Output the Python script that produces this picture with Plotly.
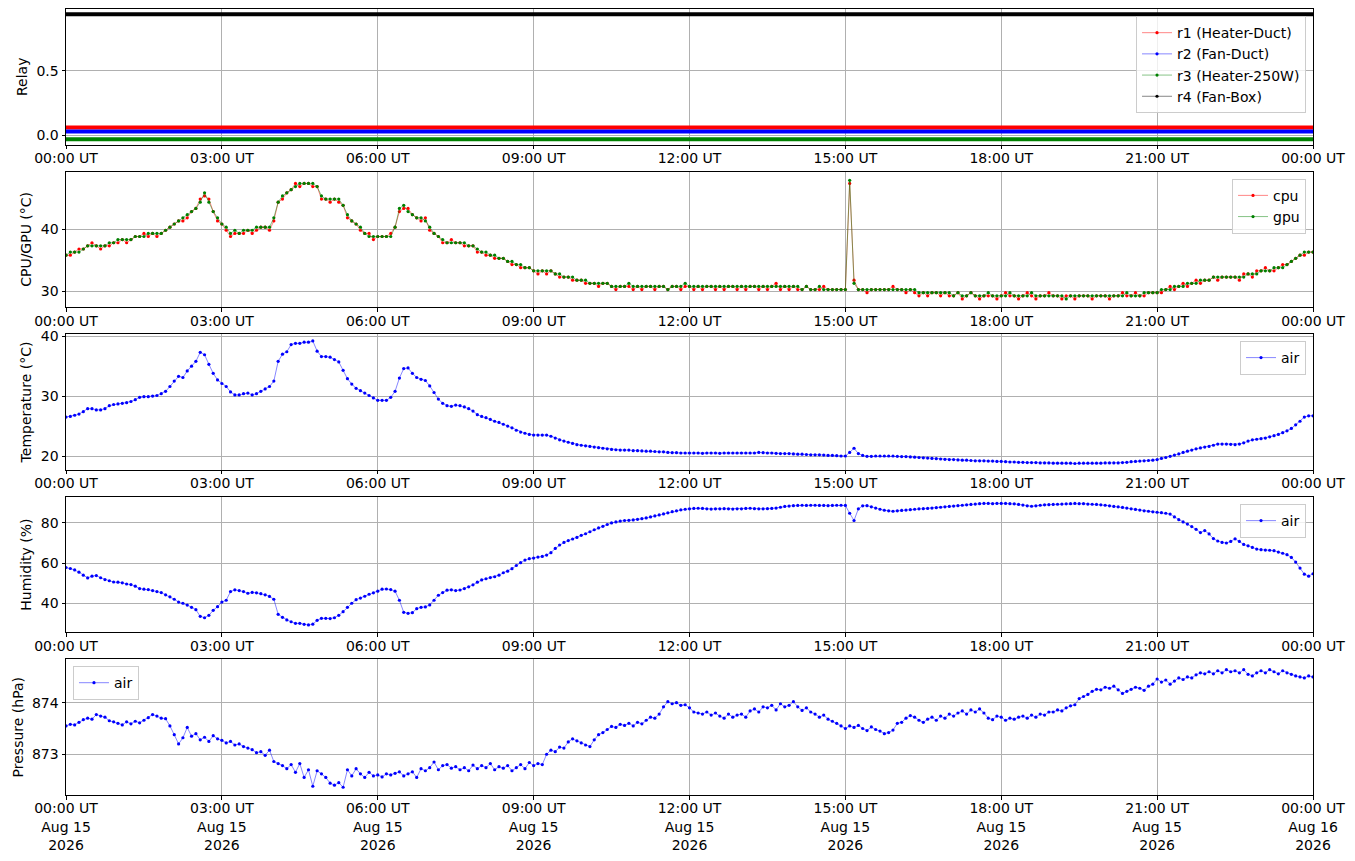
import pandas as pd
import plotly.graph_objs as go
from plotly.subplots import make_subplots

# === Datos (muestras cada 5 min, 15-Aug-2026 UT) ===
air_temp = [
    26.5, 26.6, 26.8, 27.0, 27.4, 27.9, 27.9, 27.7, 27.7, 27.9, 28.4, 28.6,
    28.7, 28.8, 28.9, 29.1, 29.4, 29.8, 29.9, 29.9, 30.0, 30.1, 30.4, 30.8,
    31.6, 32.5, 33.3, 33.1, 34.2, 35.0, 35.8, 37.3, 36.9, 35.3, 33.8, 32.7,
    32.1, 31.6, 30.7, 30.2, 30.2, 30.4, 30.5, 30.2, 30.4, 30.8, 31.2, 31.6,
    32.5, 35.8, 37.0, 37.4, 38.6, 38.8, 38.8, 39.0, 39.0, 39.2, 37.5, 36.6,
    36.6, 36.5, 36.1, 35.7, 34.3, 32.9, 32.0, 31.3, 30.9, 30.5, 30.1, 29.7,
    29.3, 29.3, 29.3, 29.8, 30.8, 33.0, 34.6, 34.7, 33.8, 33.1, 32.8, 32.6,
    31.7, 30.6, 29.5, 28.8, 28.4, 28.3, 28.5, 28.4, 28.2, 27.9, 27.5, 26.9,
    26.6, 26.4, 26.1, 25.8, 25.6, 25.3, 25.0, 24.7, 24.3, 24.0, 23.8, 23.6,
    23.5, 23.5, 23.5, 23.5, 23.3, 23.0, 22.7, 22.5, 22.3, 22.1, 21.9, 21.8,
    21.7, 21.6, 21.5, 21.4, 21.3, 21.2, 21.1, 21.05, 21.0, 21.0, 21.0, 20.9,
    20.9, 20.85, 20.8, 20.8, 20.75, 20.7, 20.7, 20.6, 20.55, 20.55, 20.5, 20.5,
    20.5, 20.5, 20.5, 20.45, 20.5, 20.5, 20.5, 20.45, 20.5, 20.5, 20.5, 20.5,
    20.5, 20.5, 20.5, 20.5, 20.6, 20.55, 20.5, 20.5, 20.45, 20.4, 20.4, 20.4,
    20.35, 20.3, 20.3, 20.25, 20.2, 20.2, 20.2, 20.15, 20.1, 20.1, 20.05, 20.0,
    20.0, 20.6, 21.3, 20.4, 20.1, 19.95, 19.95, 20.0, 20.0, 20.0, 20.0, 20.0,
    19.95, 19.9, 19.9, 19.85, 19.8, 19.75, 19.7, 19.65, 19.6, 19.55, 19.5, 19.45,
    19.4, 19.4, 19.35, 19.3, 19.3, 19.25, 19.2, 19.2, 19.2, 19.15, 19.15, 19.1,
    19.1, 19.05, 19.0, 19.0, 18.95, 18.95, 18.9, 18.9, 18.9, 18.85, 18.85, 18.85,
    18.8, 18.8, 18.8, 18.8, 18.8, 18.75, 18.8, 18.8, 18.8, 18.8, 18.8, 18.8,
    18.85, 18.85, 18.85, 18.85, 18.9, 18.95, 19.05, 19.1, 19.15, 19.2, 19.25, 19.3,
    19.4, 19.6, 19.75, 19.95, 20.15, 20.35, 20.6, 20.8, 21.0, 21.2, 21.35, 21.5,
    21.6, 21.8, 22.0, 22.0, 22.0, 21.95, 21.9, 22.0, 22.2, 22.5, 22.7, 22.8,
    22.9, 23.0, 23.2, 23.4, 23.6, 23.9, 24.2, 24.6, 25.2, 25.8, 26.5, 26.7,
    26.7,
]

air_hum = [
    57.8, 57.3, 56.6, 55.5, 54.0, 52.6, 53.5, 53.8, 52.7, 51.8, 51.2, 50.6,
    50.5, 50.2, 49.6, 49.3, 48.5, 47.3, 47.0, 46.8, 46.3, 45.8, 45.3, 44.2,
    43.2, 42.0, 40.6, 40.0, 39.1, 38.0, 36.8, 33.5, 32.8, 34.0, 36.5, 38.3,
    40.6, 41.5, 45.8, 46.7, 46.3, 45.8, 45.0, 45.4, 45.2, 44.8, 44.2, 43.4,
    42.0, 34.5, 33.0, 31.7, 30.8, 30.0, 30.0, 29.5, 29.2, 29.6, 31.5, 32.5,
    32.5, 32.4, 32.8, 34.0, 35.8, 38.0, 40.0, 41.8, 42.6, 43.5, 44.5, 45.2,
    46.0, 47.0, 47.1, 46.8, 46.0, 41.5, 35.5, 35.0, 35.3, 37.3, 38.0, 38.2,
    39.2, 41.5, 44.0, 45.3, 46.5, 46.7, 46.3, 46.6, 47.3, 48.2, 49.2, 50.5,
    51.6, 52.2, 52.8, 53.2, 54.0, 55.2, 56.0, 57.2, 58.8, 60.2, 61.5, 62.2,
    62.5, 63.0, 63.3, 64.0, 65.2, 67.3, 69.0, 70.3, 71.2, 72.0, 72.8, 73.8,
    74.6, 75.6, 76.6, 77.5, 78.3, 79.2, 80.0, 80.5, 80.9, 81.2, 81.3, 81.5,
    81.8, 82.1, 82.5, 83.0, 83.5, 84.0, 84.5, 85.0, 85.6, 86.0, 86.5, 86.8,
    87.0, 87.2, 87.3, 87.2, 87.0, 86.9, 87.0, 87.0, 87.1, 87.0, 86.9, 87.0,
    87.0, 87.2, 87.3, 87.1, 87.0, 87.0, 87.1, 87.2, 87.4, 87.8, 88.2, 88.4,
    88.6, 88.7, 88.8, 88.7, 88.8, 88.8, 88.7, 88.7, 88.6, 88.7, 88.8, 88.8,
    88.7, 84.8, 81.2, 87.0, 88.5, 88.6, 88.0, 87.4, 86.8, 86.3, 86.0, 85.8,
    86.0, 86.2, 86.4, 86.6, 86.8, 87.0, 87.1, 87.2, 87.4, 87.6, 87.8, 88.0,
    88.2, 88.4, 88.6, 88.8, 89.0, 89.2, 89.4, 89.6, 89.7, 89.7, 89.6, 89.7,
    89.7, 89.7, 89.6, 89.5, 89.2, 88.9, 88.5, 88.3, 88.5, 88.8, 89.0, 89.1,
    89.2, 89.3, 89.4, 89.5, 89.6, 89.7, 89.6, 89.6, 89.4, 89.3, 89.2, 89.0,
    88.8, 88.5, 88.2, 88.0, 87.7, 87.4, 87.0, 86.7, 86.4, 86.0, 85.8, 85.5,
    85.3, 85.1, 84.8, 84.4, 83.0, 81.6, 80.5, 79.4, 78.2, 76.8, 75.2, 76.2,
    74.5, 72.2, 71.0, 70.3, 70.0, 70.8, 72.1, 70.8, 69.3, 68.6, 67.8, 67.0,
    66.7, 66.5, 66.4, 66.2, 65.5, 64.9, 64.2, 62.8, 60.5, 57.5, 54.5, 53.5,
    54.7,
]

air_pres = [
    873.55, 873.58, 873.57, 873.62, 873.67, 873.70, 873.68, 873.77, 873.74, 873.72, 873.65, 873.63,
    873.60, 873.57, 873.63, 873.59, 873.64, 873.61, 873.66, 873.71, 873.77, 873.74, 873.70, 873.69,
    873.55, 873.38, 873.20, 873.32, 873.52, 873.35, 873.40, 873.28, 873.33, 873.25, 873.36, 873.30,
    873.27, 873.22, 873.25, 873.18, 873.20, 873.15, 873.12, 873.09, 873.03, 873.05, 872.98, 873.08,
    872.86, 872.82, 872.78, 872.72, 872.80, 872.65, 872.82, 872.55, 872.70, 872.38, 872.68, 872.62,
    872.55, 872.44, 872.40, 872.45, 872.36, 872.70, 872.58, 872.72, 872.62, 872.55, 872.65, 872.58,
    872.60, 872.56, 872.62, 872.60, 872.63, 872.66, 872.58, 872.62, 872.66, 872.55, 872.72, 872.68,
    872.74, 872.85, 872.70, 872.78, 872.80, 872.73, 872.76, 872.70, 872.74, 872.68, 872.79, 872.72,
    872.78, 872.74, 872.82, 872.70, 872.76, 872.73, 872.78, 872.68, 872.74, 872.80, 872.72, 872.84,
    872.78, 872.82, 872.80, 873.00, 873.08, 873.05, 873.14, 873.12, 873.24, 873.30, 873.26, 873.22,
    873.18, 873.15, 873.28, 873.38, 873.42, 873.48, 873.54, 873.52, 873.58, 873.56, 873.60, 873.55,
    873.62, 873.59, 873.66, 873.72, 873.70, 873.78, 873.92, 874.02, 873.98, 874.00, 873.95, 873.96,
    873.90, 873.82, 873.80, 873.78, 873.82, 873.76, 873.80, 873.74, 873.70, 873.78, 873.72, 873.76,
    873.78, 873.72, 873.84, 873.88, 873.82, 873.92, 873.90, 873.95, 873.86, 873.98, 873.92, 873.95,
    874.02, 873.92, 873.85, 873.90, 873.82, 873.78, 873.72, 873.76, 873.68, 873.64, 873.60, 873.55,
    873.50, 873.55, 873.52, 873.56, 873.50, 873.46, 873.53, 873.48, 873.45, 873.40, 873.42, 873.47,
    873.60, 873.62, 873.70, 873.75, 873.72, 873.66, 873.62, 873.68, 873.72, 873.66, 873.74, 873.70,
    873.78, 873.74, 873.80, 873.84, 873.78, 873.86, 873.82, 873.88, 873.80, 873.70, 873.67, 873.74,
    873.72, 873.66, 873.70, 873.68, 873.72, 873.74, 873.70, 873.76, 873.72, 873.78, 873.76, 873.82,
    873.82, 873.86, 873.84, 873.90, 873.94, 873.96, 874.08, 874.12, 874.16, 874.22, 874.26, 874.25,
    874.30, 874.28, 874.32, 874.25, 874.18, 874.22, 874.26, 874.30, 874.28, 874.24, 874.32, 874.36,
    874.46, 874.40, 874.44, 874.36, 874.42, 874.48, 874.45, 874.50, 874.48, 874.54, 874.58, 874.56,
    874.60, 874.56, 874.62, 874.58, 874.64, 874.60, 874.62, 874.58, 874.64, 874.55, 874.52, 874.58,
    874.62, 874.58, 874.64, 874.60, 874.56, 874.62, 874.58, 874.55, 874.52, 874.50, 874.48, 874.52,
    874.50,
]

cpu_temp = [
    35.8, 35.8, 36.3, 36.8, 36.8, 37.3, 37.8, 37.3, 36.8, 37.3, 37.3, 37.8,
    37.8, 38.3, 37.8, 38.3, 38.8, 38.8, 39.3, 38.8, 39.3, 38.8, 39.3, 39.8,
    40.3, 40.8, 41.3, 41.3, 41.8, 42.8, 43.3, 44.8, 45.3, 44.8, 42.8, 41.3,
    40.8, 39.8, 38.8, 39.3, 39.3, 39.3, 39.8, 39.3, 39.8, 40.3, 40.3, 39.8,
    41.3, 44.3, 44.8, 45.8, 46.3, 47.3, 46.8, 47.3, 47.3, 46.8, 46.8, 44.8,
    44.8, 44.3, 44.8, 44.3, 43.8, 41.8, 41.3, 40.8, 39.8, 39.3, 39.3, 38.3,
    38.8, 38.8, 38.8, 39.3, 40.3, 42.8, 43.3, 43.3, 42.3, 41.8, 41.3, 41.8,
    39.8, 39.3, 38.8, 37.8, 37.8, 38.3, 37.8, 37.8, 37.3, 37.3, 37.3, 36.3,
    36.3, 35.8, 35.8, 35.3, 35.3, 35.3, 34.8, 34.3, 34.3, 33.8, 33.8, 33.8,
    33.3, 32.8, 33.3, 32.8, 33.3, 32.8, 32.3, 32.3, 32.3, 31.8, 31.8, 31.8,
    31.3, 31.3, 31.3, 30.8, 31.3, 31.3, 30.8, 30.3, 30.8, 30.8, 30.8, 30.3,
    30.8, 30.3, 30.8, 30.8, 30.3, 30.8, 30.8, 30.3, 30.8, 30.8, 30.3, 30.8,
    30.8, 30.3, 30.8, 30.3, 30.8, 30.8, 30.3, 30.8, 30.3, 30.8, 30.8, 30.3,
    30.8, 30.3, 30.8, 30.8, 30.3, 30.8, 30.3, 30.8, 31.3, 30.3, 30.8, 30.3,
    30.8, 30.3, 30.3, 30.8, 30.3, 30.3, 30.3, 30.8, 30.3, 30.3, 30.3, 30.3,
    30.3, 47.3, 31.8, 30.3, 30.3, 29.8, 30.3, 30.3, 30.3, 30.3, 30.3, 30.8,
    30.3, 30.3, 29.8, 30.3, 29.8, 29.3, 29.8, 29.3, 29.8, 29.8, 29.3, 29.8,
    29.3, 29.3, 29.8, 28.8, 29.3, 29.8, 29.3, 28.8, 29.3, 29.3, 29.3, 28.8,
    29.3, 29.8, 29.3, 29.3, 28.8, 29.3, 29.8, 29.3, 28.8, 29.3, 29.3, 29.8,
    29.3, 29.3, 28.8, 29.3, 29.3, 28.8, 29.3, 29.3, 29.3, 28.8, 29.3, 29.3,
    29.3, 28.8, 29.3, 29.3, 29.8, 29.3, 29.3, 29.8, 29.3, 29.3, 29.8, 29.8,
    29.8, 29.8, 30.3, 30.8, 30.3, 30.8, 31.3, 30.8, 31.3, 31.8, 31.3, 31.8,
    31.8, 32.3, 31.8, 32.3, 32.3, 32.3, 32.3, 31.8, 32.8, 32.8, 32.3, 33.3,
    33.3, 33.8, 33.3, 33.3, 33.8, 34.3, 34.3, 34.8, 35.3, 35.8, 35.8, 36.3,
    36.3,
]

gpu_temp = [
    35.8, 36.3, 36.3, 36.3, 36.8, 37.3, 37.3, 37.3, 37.3, 37.3, 37.8, 37.8,
    38.3, 38.3, 38.3, 38.3, 38.8, 38.8, 38.8, 39.3, 39.3, 39.3, 39.3, 39.8,
    40.3, 40.8, 41.3, 41.8, 42.3, 42.8, 43.3, 44.3, 45.8, 44.3, 42.8, 41.8,
    40.8, 40.3, 39.3, 39.8, 39.3, 39.8, 39.8, 39.8, 40.3, 40.3, 40.3, 40.3,
    41.8, 44.3, 45.3, 45.8, 46.3, 46.8, 47.3, 47.3, 47.3, 47.3, 46.8, 45.3,
    44.8, 44.8, 44.8, 44.8, 43.8, 42.3, 41.3, 40.8, 40.3, 39.3, 38.8, 38.8,
    38.8, 38.8, 38.8, 38.8, 40.3, 43.3, 43.8, 42.8, 42.3, 41.8, 41.8, 41.3,
    40.3, 39.3, 38.8, 38.3, 37.8, 37.8, 37.8, 37.8, 37.8, 37.3, 37.3, 36.8,
    36.3, 36.3, 35.8, 35.8, 35.3, 35.3, 34.8, 34.8, 34.3, 34.3, 33.8, 33.8,
    33.3, 33.3, 33.3, 33.3, 33.3, 32.8, 32.8, 32.3, 32.3, 32.3, 31.8, 31.8,
    31.8, 31.3, 31.3, 31.3, 31.3, 31.3, 30.8, 30.8, 30.8, 30.8, 31.3, 30.8,
    30.8, 30.8, 30.8, 30.8, 30.8, 30.8, 30.8, 30.3, 30.8, 30.8, 30.8, 31.3,
    30.8, 30.8, 30.8, 30.8, 30.8, 30.8, 30.8, 30.8, 30.8, 30.8, 30.8, 30.8,
    30.8, 30.8, 30.8, 30.8, 30.8, 30.8, 30.8, 30.8, 30.8, 30.8, 30.8, 30.8,
    30.8, 30.8, 30.3, 30.8, 30.3, 30.3, 30.8, 30.3, 30.3, 30.3, 30.3, 30.3,
    30.3, 47.8, 31.3, 30.3, 30.3, 30.3, 30.3, 30.3, 30.3, 30.3, 30.3, 30.3,
    30.3, 30.3, 30.3, 30.3, 30.3, 29.8, 29.8, 29.8, 29.8, 29.8, 29.8, 29.8,
    29.8, 29.3, 29.8, 29.3, 29.3, 29.8, 29.3, 29.3, 29.3, 29.8, 29.3, 29.3,
    29.3, 29.3, 29.8, 29.3, 29.3, 29.3, 29.3, 29.8, 29.3, 29.3, 29.3, 29.3,
    29.3, 29.3, 29.3, 28.8, 29.3, 29.3, 29.3, 29.3, 29.3, 29.3, 29.3, 29.3,
    29.3, 29.3, 29.3, 29.3, 29.3, 29.8, 29.3, 29.3, 29.3, 29.8, 29.8, 29.8,
    29.8, 30.3, 30.3, 30.3, 30.8, 30.8, 30.8, 31.3, 31.3, 31.3, 31.8, 31.8,
    31.8, 32.3, 32.3, 32.3, 32.3, 32.3, 32.3, 32.3, 32.3, 32.8, 32.8, 32.8,
    33.3, 33.3, 33.3, 33.8, 33.8, 33.8, 34.3, 34.8, 35.3, 35.8, 36.3, 36.3,
    36.3,
]

# Relés (muestras horarias, con desplazamiento para verlos separados)
r1_heater_duct = [0.06, 0.06, 0.06, 0.06, 0.06, 0.06, 0.06, 0.06, 0.06, 0.06, 0.06, 0.06, 0.06,
                  0.06, 0.06, 0.06, 0.06, 0.06, 0.06, 0.06, 0.06, 0.06, 0.06, 0.06, 0.06]
r2_fan_duct = [0.03, 0.03, 0.03, 0.03, 0.03, 0.03, 0.03, 0.03, 0.03, 0.03, 0.03, 0.03, 0.03,
               0.03, 0.03, 0.03, 0.03, 0.03, 0.03, 0.03, 0.03, 0.03, 0.03, 0.03, 0.03]
r3_heater_250w = [-0.03, -0.03, -0.03, -0.03, -0.03, -0.03, -0.03, -0.03, -0.03, -0.03, -0.03, -0.03, -0.03,
                  -0.03, -0.03, -0.03, -0.03, -0.03, -0.03, -0.03, -0.03, -0.03, -0.03, -0.03, -0.03]
r4_fan_box = [0.94, 0.94, 0.94, 0.94, 0.94, 0.94, 0.94, 0.94, 0.94, 0.94, 0.94, 0.94, 0.94,
              0.94, 0.94, 0.94, 0.94, 0.94, 0.94, 0.94, 0.94, 0.94, 0.94, 0.94, 0.94]

times = pd.date_range('2026-08-15 00:00', periods=289, freq='5min')
relay_times = pd.date_range('2026-08-15 00:00', periods=25, freq='1h')
tick_times = pd.date_range('2026-08-15 00:00', periods=9, freq='3h')

for serie in (air_temp, air_hum, air_pres, cpu_temp, gpu_temp):
    assert len(serie) == len(times), len(serie)

FONT = 'DejaVu Sans'
FS = 14
GRID = '#b0b0b0'
RGB = {'red': '255,0,0', 'blue': '0,0,255', 'green': '0,128,0', 'black': '0,0,0'}

fig = make_subplots(rows=5, cols=1, vertical_spacing=27 / 786)


def serie(x, y, name, color, row, legend, lw=0.8, ms=3.2):
    fig.add_trace(go.Scatter(
        x=x, y=y, name=name, mode='lines+markers',
        line=dict(color=f'rgba({RGB[color]},0.6)', width=lw),
        marker=dict(color=color, size=ms),
        legend=legend,
    ), row=row, col=1)


# Relés: trazo grueso en el gráfico, entrada fina en la leyenda
relays = [
    (r1_heater_duct, 'r1 (Heater-Duct)', 'red'),
    (r2_fan_duct, 'r2 (Fan-Duct)', 'blue'),
    (r3_heater_250w, 'r3 (Heater-250W)', 'green'),
    (r4_fan_box, 'r4 (Fan-Box)', 'black'),
]
for vals, name, color in relays:
    fig.add_trace(go.Scatter(
        x=relay_times, y=vals, name=name, mode='lines',
        line=dict(color=color, width=4), showlegend=False, legend='legend',
    ), row=1, col=1)
for vals, name, color in relays:
    serie([None], [None], name, color, 1, 'legend')

# CPU / GPU
serie(times, cpu_temp, 'cpu', 'red', 2, 'legend2')
serie(times, gpu_temp, 'gpu', 'green', 2, 'legend2')

# Aire
serie(times, air_temp, 'air', 'blue', 3, 'legend3')
serie(times, air_hum, 'air', 'blue', 4, 'legend4')
serie(times, air_pres, 'air', 'blue', 5, 'legend5')

labels = [f'{t:%H:%M} UT' for t in tick_times]
labels_bottom = [f'{t:%H:%M} UT<br>{t:%b} {t.day}<br>{t:%Y}' for t in tick_times]

axis_style = dict(
    showline=True, linecolor='black', linewidth=1, mirror=True,
    ticks='outside', ticklen=3.5, tickcolor='black', tickwidth=1,
    showgrid=True, gridcolor=GRID, gridwidth=0.8, zeroline=False,
    automargin=False,
    tickfont=dict(family=FONT, size=FS, color='black'),
)

for i in range(1, 6):
    fig.update_xaxes(
        axis_style, row=i, col=1,
        range=[tick_times[0], tick_times[-1]],
        tickvals=tick_times,
        ticktext=labels_bottom if i == 5 else labels,
        ticklabelstandoff=-3,
    )

y_cfg = [
    ('Relay', [-0.072, 0.98], [0.0, 0.5], ['0.0', '0.5']),
    ('CPU/GPU (°C)', [27.47, 49.2], [30, 40], ['30', '40']),
    ('Temperature (°C)', [17.7, 40.33], [20, 30, 40], ['20', '30', '40']),
    ('Humidity (%)', [25.5, 93], [40, 60, 80], ['40', '60', '80']),
    ('Pressure (hPa)', [872.21, 874.84], [873, 874], ['873', '874']),
]
for i, (titulo, rango, vals, texts) in enumerate(y_cfg, start=1):
    fig.update_yaxes(
        axis_style, row=i, col=1,
        range=rango, tickvals=vals, ticktext=texts,
        title=dict(text=titulo, font=dict(family=FONT, size=FS, color='black'), standoff=5),
    )

leg = dict(
    bgcolor='rgba(255,255,255,0.8)', bordercolor='#cccccc', borderwidth=1,
    font=dict(family=FONT, size=FS, color='black'),
    xanchor='right', yanchor='top', tracegroupgap=0,
)

fig.update_layout(
    width=1355,
    height=861,
    margin=dict(l=66, r=42, t=9, b=66, autoexpand=False),
    plot_bgcolor='white',
    paper_bgcolor='white',
    font=dict(family=FONT, size=FS, color='black'),
    showlegend=True,
    legend=dict(leg, x=0.9944, y=0.991),
    legend2=dict(leg, x=0.9944, y=0.784),
    legend3=dict(leg, x=0.9944, y=0.5776),
    legend4=dict(leg, x=0.9944, y=0.3702),
    legend5=dict(leg, x=0.0056, y=0.164, xanchor='left'),
)

fig.write_html(
    'out.html',
    config={'displayModeBar': False},
    post_script="document.body.style.margin='0';",
)
